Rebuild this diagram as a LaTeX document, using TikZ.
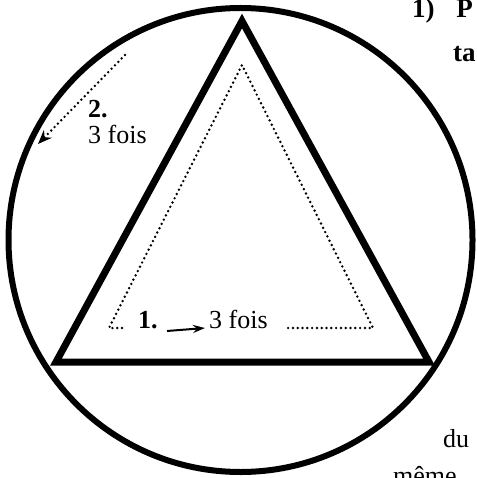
\documentclass[tikz,border=0pt]{standalone}
\usepackage{fontspec}
\setmainfont{Liberation Serif}
\usetikzlibrary{arrows.meta}
\begin{document}
\begin{tikzpicture}[x=1pt,y=-1pt,
  thickline/.style={line width=6pt},
  dotline/.style={line width=2.7pt,line cap=round,dash pattern=on 0pt off 4.8pt},
  lbl/.style={inner sep=0pt,anchor=base west,font=\fontsize{26}{29}\selectfont},
  boldlbl/.style={lbl,font=\fontsize{26}{29}\selectfont\bfseries},
  headlbl/.style={lbl,font=\fontsize{27}{30}\selectfont\bfseries}]
\useasboundingbox (0,0) rectangle (476,478);
\clip (0,0) rectangle (476,478);
% Circle
\coordinate (O) at (240.5,240);
\draw[thickline] (O) circle[radius=232];
% Big triangle
\coordinate (top) at (242,21);
\coordinate (left) at (56,362);
\coordinate (right) at (429,362);
\draw[line width=7pt,line join=miter] (top) -- (left) -- (right) -- cycle;
% Dotted triangle (1.)
\coordinate (dtop) at (242,65);
\coordinate (dleft) at (109,328);
\coordinate (dright) at (373,328);
\coordinate (dl) at (122,328);
\coordinate (dr) at (286,328);
\draw[dotline] (dl) -- (dleft) -- (dtop) -- (dright) -- (dr);
\node[boldlbl] (one) at (138,328) {1.};
\coordinate (arr1s) at (167,331);
\coordinate (arr1e) at (205,328);
\draw[line width=2pt,-{Stealth[length=12pt,width=8pt]}] (arr1s) -- (arr1e);
\node[lbl] (fois1) at (209,328) {3 fois};
% Dotted arrow (2.)
\coordinate (arr2s) at (125,55);
\coordinate (arr2e) at (38,144);
\draw[dotline,-{Stealth[length=14pt,width=11pt]}] (arr2s) -- (arr2e);
\node[boldlbl] (two) at (88,118) {2.};
\node[lbl] (fois2) at (88,144) {3 fois};
% Text on the right
\node[headlbl] (head) at (412,18) {1)\hspace{0.8em}P};
\node[headlbl] (ta) at (453,62) {ta};
\node[lbl] (du) at (443,447) {du};
\node[lbl] (meme) at (393,484) {même};
\end{tikzpicture}
\end{document}
